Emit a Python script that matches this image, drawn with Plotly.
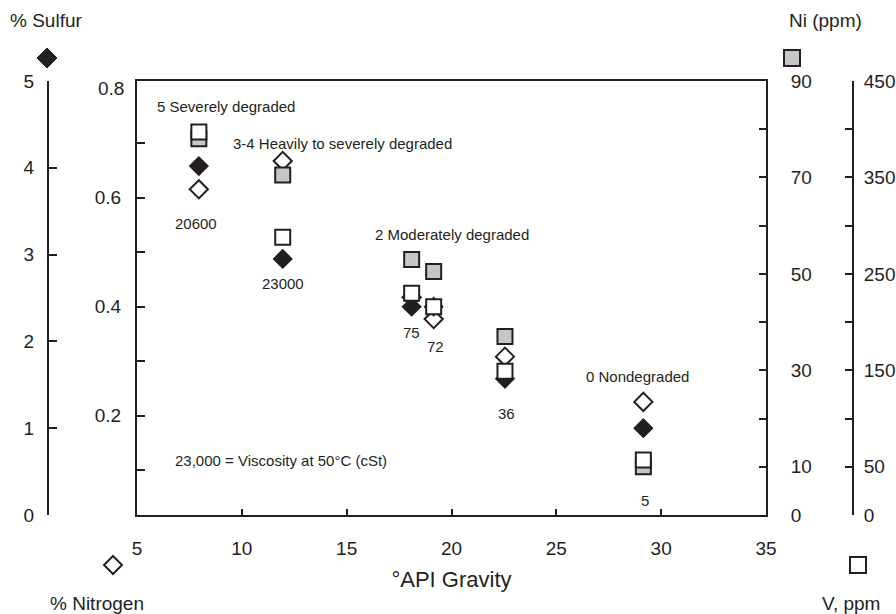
import plotly.graph_objects as go

# ---- data ----
api_gravity = [7.95, 11.95, 18.1, 19.15, 22.55, 29.15]
sulfur_pct = [4.02, 2.95, 2.40, 2.40, 1.57, 1.00]
nitrogen_pct = [0.615, 0.667, 0.417, 0.377, 0.308, 0.225]
nickel_ppm = [78.0, 70.5, 53.0, 50.5, 37.0, 10.0]
vanadium_ppm = [397, 288, 230, 216, 149, 57]
viscosity_labels = ["20600", "23000", "75", "72", "36", "5"]

degradation_labels = ["5 Severely degraded", "3-4 Heavily to severely degraded",
                      "2 Moderately degraded", "0 Nondegraded"]
degradation_api = [5.86, 9.48, 16.25, 26.32]

# ---- geometry ----
W, H = 896, 614
ML, MR, MT, MB = 40, 30, 81, 99
PW = W - ML - MR
PH = H - MT - MB


def px2x(px):
    return (px - ML) / PW


def px2y(py):
    return (H - MB - py) / PH


INK = "#231f20"
FONT = "Liberation Sans, Arial, Helvetica, sans-serif"
GRAY = "#c6c6c6"

fig = go.Figure()

fig.add_trace(go.Scatter(
    x=api_gravity, y=nitrogen_pct, mode="markers", yaxis="y", name="% Nitrogen",
    marker=dict(symbol="diamond", size=14, color="white", line=dict(color=INK, width=2))))
fig.add_trace(go.Scatter(
    x=api_gravity, y=sulfur_pct, mode="markers", yaxis="y2", name="% Sulfur",
    marker=dict(symbol="diamond", size=14, color=INK, line=dict(color=INK, width=1.5))))
fig.add_trace(go.Scatter(
    x=api_gravity, y=nickel_ppm, mode="markers", yaxis="y3", name="Ni (ppm)",
    marker=dict(symbol="square", size=15, color=GRAY, line=dict(color=INK, width=2))))
fig.add_trace(go.Scatter(
    x=api_gravity, y=vanadium_ppm, mode="markers", yaxis="y4", name="V, ppm",
    marker=dict(symbol="square", size=15, color="white", line=dict(color=INK, width=2))))

tickfont = dict(family=FONT, size=19, color=INK)
axis_common = dict(showgrid=False, zeroline=False, showline=True, linecolor=INK,
                   linewidth=2, ticks="inside", tickcolor=INK, tickwidth=1.5,
                   tickfont=tickfont, automargin=False)

n_lo = (524.5 - 515) / 545.0
n_hi = (524.5 - 81) / 545.0

fig.update_layout(
    width=W, height=H,
    margin=dict(l=ML, r=MR, t=MT, b=MB, autoexpand=False),
    paper_bgcolor="white", plot_bgcolor="white",
    showlegend=False,
    font=dict(family=FONT, color=INK),
    xaxis=dict(axis_common, domain=[px2x(137), px2x(766)], range=[5, 35],
               tickvals=[5, 10, 15, 20, 25, 30, 35], ticklen=6, mirror=True,
               ticklabelstandoff=15, anchor="y",
               title=dict(text="°API Gravity", font=dict(family=FONT, size=22, color=INK),
                          standoff=14)),
    yaxis=dict(axis_common, range=[n_lo, n_hi], side="left", anchor="x",
               tickvals=[0.1, 0.2, 0.3, 0.4, 0.5, 0.6, 0.7],
               ticktext=["", "0.2", "", "0.4", "", "0.6", ""],
               ticklen=8, ticklabelstandoff=10),
    yaxis2=dict(axis_common, range=[0, 5], overlaying="y", side="left",
                anchor="free", position=px2x(48),
                tickvals=[0, 1, 2, 3, 4, 5], ticklen=8, ticklabelstandoff=9),
    yaxis3=dict(axis_common, range=[0, 90], overlaying="y", side="right", anchor="x",
                tickvals=list(range(0, 100, 10)),
                ticktext=["0", "10", "", "30", "", "50", "", "70", "", "90"],
                ticklen=7, ticklabelstandoff=19),
    yaxis4=dict(axis_common, range=[0, 450], overlaying="y", side="right",
                anchor="free", position=px2x(853),
                tickvals=list(range(0, 500, 50)),
                ticktext=["0", "50", "", "150", "", "250", "", "350", "", "450"],
                ticklen=7, ticklabelstandoff=6),
)

ann = []
# nitrogen end labels (0 and 0.8 sit off the box corners)
for v, t in [(0.8, "0.8"), (0.0, "0")]:
    ann.append(dict(x=px2x(126), y=v, xref="paper", yref="y", text=t, showarrow=False,
                    xanchor="right", yanchor="middle", font=tickfont))

# axis header titles
title_font = dict(family=FONT, size=19, color=INK)
ann += [
    dict(x=px2x(8), y=px2y(20), xref="paper", yref="paper", text="% Sulfur",
         showarrow=False, xanchor="left", yanchor="middle", font=title_font),
    dict(x=px2x(825), y=px2y(20), xref="paper", yref="paper", text="Ni (ppm)",
         showarrow=False, xanchor="center", yanchor="middle", font=title_font),
    dict(x=px2x(48), y=px2y(603), xref="paper", yref="paper", text="% Nitrogen",
         showarrow=False, xanchor="left", yanchor="middle", font=title_font),
    dict(x=px2x(820), y=px2y(603), xref="paper", yref="paper", text="V, ppm",
         showarrow=False, xanchor="left", yanchor="middle", font=title_font),
]

small = dict(family=FONT, size=15, color=INK)
visc_y = [224, 283, 332, 346, 413, 500]
visc_shift = [-3, 0, 0, 2, 2, 2]
for xv, lab, py, sh in zip(api_gravity, viscosity_labels, visc_y, visc_shift):
    ann.append(dict(x=xv, y=px2y(py), xref="x", yref="paper", text=lab, showarrow=False,
                    xshift=sh, xanchor="center", yanchor="middle", font=small))

deg_y = [107, 143, 234, 376]
for xv, lab, py in zip(degradation_api, degradation_labels, deg_y):
    ann.append(dict(x=xv, y=px2y(py), xref="x", yref="paper", text=lab, showarrow=False,
                    xanchor="left", yanchor="middle", font=small))

ann.append(dict(x=6.72, y=px2y(460), xref="x", yref="paper",
                text="23,000 = Viscosity at 50°C (cSt)", showarrow=False,
                xanchor="left", yanchor="middle", font=small))

fig.update_layout(annotations=ann)

# legend key symbols next to the axis headers
diamond = "M 0 10 L 10 0 L 0 -10 L -10 0 Z"
shapes = [
    dict(type="path", path=diamond, xsizemode="pixel", ysizemode="pixel",
         xref="paper", yref="paper", xanchor=px2x(47), yanchor=px2y(58),
         fillcolor=INK, line=dict(color=INK, width=1)),
    dict(type="path", path="M 0 9 L 9 0 L 0 -9 L -9 0 Z", xsizemode="pixel", ysizemode="pixel",
         xref="paper", yref="paper", xanchor=px2x(113), yanchor=px2y(565),
         fillcolor="white", line=dict(color=INK, width=2)),
    dict(type="rect", xsizemode="pixel", ysizemode="pixel", x0=-8, x1=8, y0=-8, y1=8,
         xref="paper", yref="paper", xanchor=px2x(792), yanchor=px2y(58),
         fillcolor=GRAY, line=dict(color=INK, width=2)),
    dict(type="rect", xsizemode="pixel", ysizemode="pixel", x0=-8, x1=8, y0=-8, y1=8,
         xref="paper", yref="paper", xanchor=px2x(858), yanchor=px2y(565),
         fillcolor="white", line=dict(color=INK, width=2)),
]
fig.update_layout(shapes=shapes)

fig.write_html(
    "out.html",
    config={"displayModeBar": False},
    post_script="document.body.style.margin='0';document.body.style.overflow='hidden';",
)
